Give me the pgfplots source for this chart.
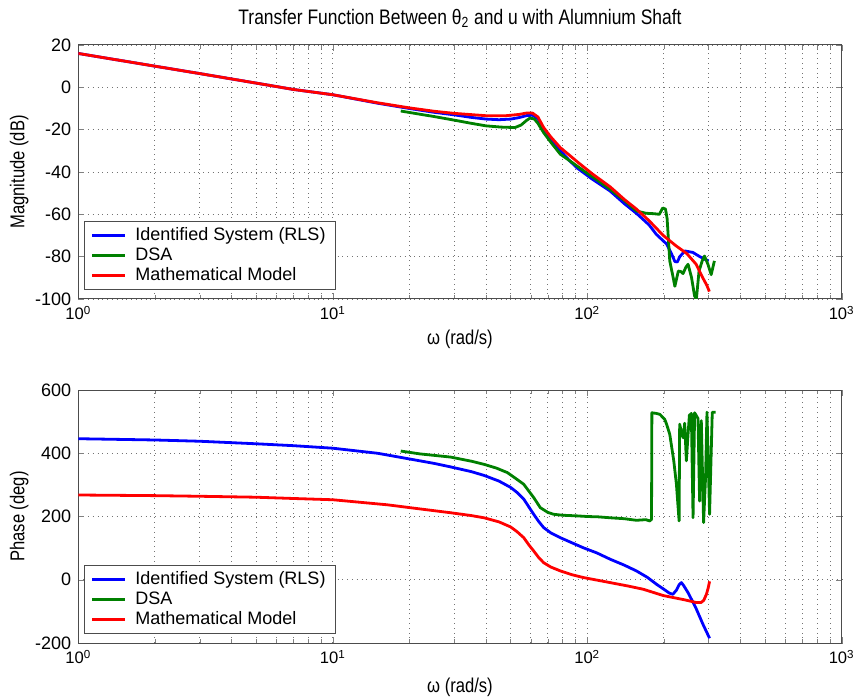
\documentclass[border=0pt]{standalone}
\usepackage{fontspec}
\setmainfont{Liberation Sans}
\newfontfamily\narrowfont[FakeStretch=0.83]{Liberation Sans}
\usepackage{pgfplots}
\pgfplotsset{compat=1.18}
\definecolor{mblue}{RGB}{0,0,255}
\definecolor{mgreen}{RGB}{0,128,0}
\definecolor{mred}{RGB}{255,0,0}

\pgfplotsset{legend image code/.code={\draw[#1, line width=1.4pt] (0pt,0pt) -- (16.5pt,0pt); \path (19pt,0pt);}}

\begin{document}
\begin{tikzpicture}
\begin{axis}[
  xmode=log, scale only axis, width=381.7pt, height=127pt,
  xmin=1, xmax=1000,
  xtick={1,10,100,1000},
  xticklabels={10\textsuperscript{0},10\textsuperscript{1},10\textsuperscript{2},10\textsuperscript{3}},
  minor xtick={2,3,4,5,6,7,8,9,20,30,40,50,60,70,80,90,200,300,400,500,600,700,800,900},
  grid=both,
  major grid style={dotted, black!55},
  minor grid style={dotted, black!55},
  tick align=inside, tick pos=both,
  major tick length=3pt, minor tick length=2pt,
  axis line style={black!70, line width=0.5pt},
  yticklabel style={/pgf/number format/assume math mode=true, font=\fontsize{9}{10}\selectfont},
  xticklabel style={font=\fontsize{8.3}{10}\selectfont},
  label style={font=\narrowfont\fontsize{10}{12}\selectfont},
  xlabel={ω (rad/s)},
  xlabel style={yshift=2pt},
  ylabel style={yshift=-3.5pt},
  legend cell align=left,
  legend style={at={(0.0078,0.035)}, anchor=south west, draw=black!70,
    font=\fontsize{9}{10}\selectfont, row sep=0pt, inner xsep=3pt, inner ysep=2pt,
    nodes={text height=6.5pt, text depth=2pt, inner ysep=0.75pt}},
  every axis plot/.append style={line width=1.4pt, line join=round},
  ymin=-100, ymax=20, ytick={-100,-80,...,20},
  ylabel={Magnitude (dB)},
  title={Transfer Function Between θ\textsubscript{2} and u with Alumnium Shaft},
  title style={font=\narrowfont\fontsize{10.5}{12}\selectfont, yshift=-1pt},
]
\addplot[mblue] coordinates {
(1,16)(2,10)(3,6.5)(5,2)(7,-1)(10,-3.5)(15,-7.5)(20,-10)(25,-11.8)(30,-13)
(35,-14.2)(40,-15)(45,-15.3)(50,-15)(54,-14.3)(58,-13.3)(61,-13.2)(64,-14.8)
(67.4,-19.7)(72,-24.5)(78.4,-30)(85,-34.5)(91,-38)(105,-43.5)(123,-49)(140,-55)
(156,-59.5)(175,-65)(187,-69.5)(205,-74)(215,-79)(221,-82.3)(226,-82.5)(231,-80)
(242,-77.3)(260,-78)(277,-80)(289,-81.2)(300,-82)
};
\addlegendentry{Identified System (RLS)}
\addplot[mgreen] coordinates {
(18.5,-11.2)(22,-12.7)(25,-13.8)(30,-15.5)(35,-17)(40,-18.2)(46,-18.8)(52,-19)
(55,-17.8)(57.5,-15.8)(59.6,-14.5)(62,-15)(64,-17)(67.4,-21.4)(72,-26)(78.4,-31.6)
(85.6,-34.8)(97,-39.5)(110,-44)(123,-48.2)(140,-53.5)(156,-58.4)(170,-59.5)
(183,-59.7)(192,-60)(198,-57)(203,-57.5)(206,-62)(211,-82)(216,-88)(221,-94)
(228,-86.8)(233,-87)(238,-88)(244,-85)(249,-83.6)(257,-89.9)(264,-98.5)
(268.5,-100)(275,-86.8)(283,-82)(289,-79.7)(298,-83.6)(307,-88.5)(316,-82)
};
\addlegendentry{DSA}
\addplot[mred] coordinates {
(1,16)(2,10)(3,6.5)(5,2)(7,-1)(10,-3.5)(15,-7.3)(20,-9.7)(25,-11.3)(30,-12.3)
(40,-13.4)(48,-13.4)(54,-12.8)(58,-12.1)(61,-12.2)(64,-14)(67.4,-19)(72,-23.5)
(78.4,-28.5)(85,-32)(91,-35)(105,-41)(123,-47)(140,-53)(156,-57.5)(175,-63)
(199,-70)(224,-75)(246,-78.5)(268,-83.6)(283,-89.5)(295,-93.5)(302,-96.5)
};
\addlegendentry{Mathematical Model}
\end{axis}

\begin{axis}[at={(0pt,-172pt)},
  xmode=log, scale only axis, width=381.7pt, height=126.5pt,
  xmin=1, xmax=1000,
  xtick={1,10,100,1000},
  xticklabels={10\textsuperscript{0},10\textsuperscript{1},10\textsuperscript{2},10\textsuperscript{3}},
  minor xtick={2,3,4,5,6,7,8,9,20,30,40,50,60,70,80,90,200,300,400,500,600,700,800,900},
  grid=both,
  major grid style={dotted, black!55},
  minor grid style={dotted, black!55},
  tick align=inside, tick pos=both,
  major tick length=3pt, minor tick length=2pt,
  axis line style={black!70, line width=0.5pt},
  yticklabel style={/pgf/number format/assume math mode=true, font=\fontsize{9}{10}\selectfont},
  xticklabel style={font=\fontsize{8.3}{10}\selectfont},
  label style={font=\narrowfont\fontsize{10}{12}\selectfont},
  xlabel={ω (rad/s)},
  xlabel style={yshift=0pt},
  ylabel style={yshift=-3.5pt},
  legend cell align=left,
  legend style={at={(0.0078,0.035)}, anchor=south west, draw=black!70,
    font=\fontsize{9}{10}\selectfont, row sep=0pt, inner xsep=3pt, inner ysep=2pt,
    nodes={text height=6.5pt, text depth=2pt, inner ysep=0.75pt}},
  every axis plot/.append style={line width=1.4pt, line join=round},
  ymin=-200, ymax=600, ytick={-200,0,...,600},
  ylabel={Phase (deg)},
]
\addplot[mblue] coordinates {
(1,446)(2,442)(3,438)(5,430)(7,424)(10,416)(15,400)(19.7,383)(25,368)(29,357)
(35,342)(39.3,330)(45,312)(50,292)(53,276)(56.3,255)(59,230)(61.6,207)(64.5,184)
(67.4,165)(72,148)(78.4,133)(87,117)(96.6,101)(109,85)(123,65)(140,46)(156,28)
(172,8)(187,-14)(200,-30)(210,-42)(217,-46)(224,-33)(230,-15)(234.5,-9)(240,-20)
(249,-41)(258,-65)(268.5,-93)(285,-141)(302.5,-185)
};
\addlegendentry{Identified System (RLS)}
\addplot[mgreen] coordinates {
(18.5,407)(22,398)(29,388)(35,375)(39.3,365)(44,353)(48.5,339)(52,322)(56.3,302)
(61.6,260)(65.4,228)(70,213)(73.8,207)(80,204)(91,202)(100,200)(110,199)(123,196)
(140,193)(156,188)(170,190)(176,186)(178.9,191)(179.5,528)(187,526)(193,523)
(201.7,507)(205,492)(211,460)(218.8,376)(224.1,302)(229.6,186)(230.8,492)(234,470)
(238.1,449)(241.5,495)(245.2,376)(249,460)(252,520)(256.5,526)(260.5,196)
(264.2,528)(272.4,510)(276.4,249)(280.7,503)(286.6,181)(291.7,323)(295.5,530)
(302.5,207)(310,530)(319.2,530)
};
\addlegendentry{DSA}
\addplot[mred] coordinates {
(1,268)(2,266)(3,264)(5,261)(7,257)(10,253)(16.4,237)(22,224)(29,212)(35,203)
(39.3,196)(45,183)(50,167)(53,152)(56.3,133)(59,110)(61.6,91)(64.5,70)(67.4,54)
(72,40)(78.4,28)(87,16)(96.6,7)(109,-1)(123,-9)(145,-20)(166,-30)(199,-50)
(211,-54)(240,-63)(268,-72)(280,-72)(287,-65)(294,-46)(299,-25)(302.5,-5)
};
\addlegendentry{Mathematical Model}
\end{axis}
\pgfresetboundingbox
\path (-39.15pt,-200pt) rectangle (388.35pt,149.5pt);
\end{tikzpicture}
\end{document}
